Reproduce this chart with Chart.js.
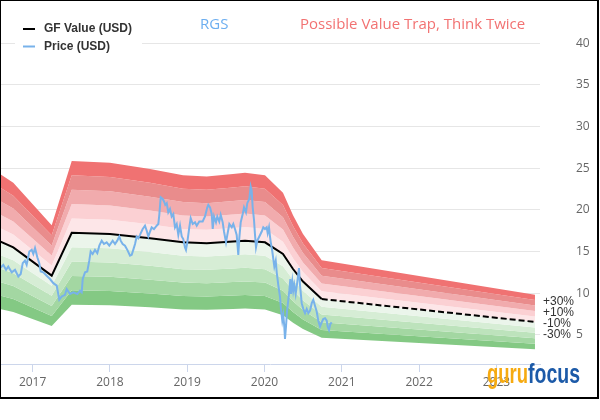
<!DOCTYPE html>
<html>
<head>
<meta charset="utf-8">
<script src="https://cdn.jsdelivr.net/npm/chart.js@4.4.0/dist/chart.umd.min.js"></script>
<style>
html, body { margin: 0; padding: 0; background: #fff; }
#wrap { width: 600px; height: 420px; }
</style>
</head>
<body>
<div id="wrap"><canvas id="grafico" width="600" height="420"></canvas></div>
<script>
// GF Value (historical), decimal years
const gfYears = [2016.578, 2016.750, 2017.247, 2017.506, 2018.001, 2018.519, 2018.946, 2019.252,
    2019.592, 2019.748, 2020.006, 2020.239, 2020.369, 2020.498, 2020.740];
const gfValues = [16.2, 15.5, 12.1, 17.25, 17.1, 16.6, 16.1, 16.0,
    16.2, 16.3, 16.1, 14.7, 12.9, 11.4, 9.3];

// GF Value projection (dashed)
const projYears = [2020.740, 2023.499];
const projValues = [9.3, 6.55];

// band offsets around GF Value, percent
const bandPcts = [50, 40, 30, 20, 10, 0, -10, -20, -30, -40, -50];
const bandColors = ['#f07272', '#e98c8c', '#f1abad', '#fbd0d3', '#fde6e8',
    '#ebf5eb', '#d6edd5', '#bde3bc', '#a3d7a2', '#84c984'];
const bandLabels = ['+30%', '+10%', '-10%', '-30%'];
const bandLabelPcts = [30, 10, -10, -30];

// Price (USD)
const priceYears = [
    2016.578, 2016.621, 2016.656, 2016.685, 2016.729, 2016.772, 2016.815, 2016.846, 2016.872, 2016.901,
    2016.923, 2016.957, 2016.988, 2017.009, 2017.031, 2017.061, 2017.086, 2017.105, 2017.138, 2017.182,
    2017.225, 2017.268, 2017.312, 2017.345, 2017.376, 2017.419, 2017.441, 2017.484, 2017.526, 2017.578,
    2017.613, 2017.635, 2017.648, 2017.678, 2017.707, 2017.733, 2017.751, 2017.777, 2017.807, 2017.837,
    2017.863, 2017.894, 2017.923, 2017.958, 2017.992, 2018.036, 2018.066, 2018.095, 2018.121, 2018.139,
    2018.165, 2018.195, 2018.225, 2018.260, 2018.282, 2018.302, 2018.325, 2018.346, 2018.367, 2018.389,
    2018.424, 2018.454, 2018.476, 2018.497, 2018.519, 2018.540, 2018.570, 2018.605, 2018.626, 2018.639,
    2018.657, 2018.683, 2018.700, 2018.716, 2018.735, 2018.755, 2018.777, 2018.799, 2018.820, 2018.842,
    2018.864, 2018.885, 2018.907, 2018.929, 2018.949, 2018.971, 2018.984, 2019.001, 2019.027, 2019.045,
    2019.071, 2019.101, 2019.123, 2019.156, 2019.200, 2019.230, 2019.260, 2019.273, 2019.295, 2019.317,
    2019.330, 2019.347, 2019.372, 2019.389, 2019.415, 2019.433, 2019.459, 2019.476, 2019.502, 2019.519,
    2019.545, 2019.576, 2019.596, 2019.618, 2019.640, 2019.661, 2019.674, 2019.692, 2019.718, 2019.735,
    2019.760, 2019.777, 2019.803, 2019.821, 2019.834, 2019.847, 2019.864, 2019.877, 2019.890, 2019.907,
    2019.933, 2019.964, 2019.984, 2020.006, 2020.028, 2020.041, 2020.058, 2020.071, 2020.084, 2020.101,
    2020.114, 2020.127, 2020.145, 2020.158, 2020.178, 2020.200, 2020.213, 2020.230, 2020.243, 2020.256,
    2020.265, 2020.278, 2020.291, 2020.308, 2020.321, 2020.334, 2020.343, 2020.360, 2020.372, 2020.385,
    2020.403, 2020.416, 2020.429, 2020.446, 2020.459, 2020.481, 2020.502, 2020.524, 2020.546, 2020.567,
    2020.589, 2020.611, 2020.631, 2020.653, 2020.675, 2020.696, 2020.718, 2020.740, 2020.760, 2020.783,
    2020.805, 2020.817, 2020.834, 2020.851, 2020.869];
const priceValues = [
    13.0, 13.4, 12.8, 13.2, 12.5, 12.8, 12.0, 12.3, 13.6, 13.9,
    13.4, 15.0, 15.2, 14.7, 15.4, 14.3, 13.6, 12.6, 12.5, 12.1,
    11.7, 11.2, 10.9, 9.2, 9.6, 9.8, 10.5, 9.9, 10.1, 9.9,
    10.3, 10.1, 11.7, 12.5, 12.6, 13.9, 15.0, 14.7, 15.2, 14.8,
    15.7, 16.3, 15.9, 16.1, 15.7, 16.3, 15.9, 16.3, 16.8, 16.3,
    15.9, 15.7, 15.2, 14.5, 14.6, 15.2, 15.9, 16.8, 16.6, 17.0,
    17.7, 18.1, 17.5, 16.8, 17.4, 17.9, 17.7, 18.1, 18.3, 19.4,
    21.5, 21.3, 21.0, 20.6, 20.8, 19.7, 20.1, 19.2, 19.5, 17.9,
    18.3, 17.0, 18.1, 16.8, 16.5, 15.5, 15.2, 16.1, 17.9, 19.0,
    18.3, 18.5, 18.1, 18.6, 18.6, 19.2, 20.3, 20.6, 20.3, 19.5,
    17.7, 19.2, 18.5, 19.2, 18.6, 19.4, 18.5, 17.4, 16.1, 17.0,
    18.3, 17.9, 18.3, 17.7, 17.0, 14.6, 16.6, 18.5, 19.5, 20.3,
    19.7, 20.8, 21.3, 22.8, 22.3, 20.3, 18.8, 17.0, 15.5, 16.3,
    16.8, 17.4, 17.9, 17.7, 17.9, 17.2, 17.9, 16.8, 15.9, 15.0,
    14.1, 13.2, 13.9, 12.5, 11.0, 9.6, 8.1, 6.7, 7.4, 6.0,
    4.5, 6.0, 7.8, 9.2, 10.3, 11.7, 9.9, 11.4, 10.3, 11.0,
    9.9, 10.8, 11.7, 13.0, 11.0, 8.8, 8.1, 7.6, 8.1, 7.6,
    7.9, 8.8, 9.2, 8.5, 7.8, 6.7, 6.0, 6.5, 6.9, 7.0,
    6.7, 6.0, 5.6, 6.3, 6.5];

// axes
const yearTicks = [2017, 2018, 2019, 2020, 2021, 2022, 2023];
const yTicks = [5, 10, 15, 20, 25, 30, 35, 40];
const xMin = 2016.578, xMax = 2023.564;
const yMin = 1.5, yMax = 40;

const toPts = (xs, ys) => xs.map((x, i) => ({ x, y: ys[i] }));

// GF value full path (historic + projected end) used for the bands
const bandYears = gfYears.concat(projYears.slice(1));
const bandBase = gfValues.concat(projValues.slice(1));

const datasets = [
    { label: 'Price (USD)', data: toPts(priceYears, priceValues), borderColor: '#78b2ea', borderWidth: 2, fill: false },
    { label: 'GF Value (USD)', data: toPts(gfYears, gfValues), borderColor: '#000', borderWidth: 2, fill: false },
    { label: 'proj', data: toPts(projYears, projValues), borderColor: '#000', borderWidth: 2, borderDash: [6, 3], fill: false }
];
bandPcts.forEach((p, i) => {
    datasets.push({
        label: 'band' + p,
        data: toPts(bandYears, bandBase.map(v => v * (1 + p / 100))),
        borderWidth: 0,
        borderColor: 'rgba(0,0,0,0)',
        backgroundColor: i > 0 ? bandColors[i - 1] : 'rgba(0,0,0,0)',
        fill: i > 0 ? '-1' : false
    });
});

const extras = {
    id: 'extras',
    afterDraw(chart) {
        const ctx = chart.ctx;
        const ys = chart.scales.y;
        ctx.save();
        // legend
        ctx.fillStyle = '#fff';
        ctx.fillRect(15, 12, 127, 46);
        ctx.lineWidth = 2;
        ctx.strokeStyle = '#000';
        ctx.beginPath(); ctx.moveTo(23, 29); ctx.lineTo(35, 29); ctx.stroke();
        ctx.strokeStyle = '#78b2ea';
        ctx.beginPath(); ctx.moveTo(23, 46.5); ctx.lineTo(35, 46.5); ctx.stroke();
        ctx.fillStyle = '#333';
        ctx.font = 'bold 12px "Liberation Sans", Arial, sans-serif';
        ctx.textBaseline = 'middle';
        ctx.textAlign = 'left';
        ctx.fillText('GF Value (USD)', 44, 29);
        ctx.fillText('Price (USD)', 44, 47);
        // titles
        ctx.font = '15px "Open Sans", sans-serif';
        ctx.fillStyle = '#6caef0';
        ctx.fillText('RGS', 200, 25);
        ctx.fillStyle = '#f27272';
        ctx.fillText('Possible Value Trap, Think Twice', 300, 25);
        // band labels
        ctx.font = '12px "Liberation Sans", Arial, sans-serif';
        ctx.fillStyle = '#333';
        const lastGf = projValues[projValues.length - 1];
        bandLabelPcts.forEach((p, i) => {
            ctx.fillText(bandLabels[i], 543, ys.getPixelForValue(lastGf * (1 + p / 100)) - 4);
        });
        // logo
        ctx.textBaseline = 'alphabetic';
        ctx.font = 'bold 27px "Liberation Sans Narrow", "Liberation Sans", Arial, sans-serif';
        const w1 = ctx.measureText('guru').width;
        const w2 = ctx.measureText('focus').width;
        ctx.save();
        ctx.translate(487, 383);
        ctx.scale(41 / w1, 1);
        ctx.fillStyle = '#f6aa10';
        ctx.fillText('guru', 0, 0);
        ctx.restore();
        ctx.save();
        ctx.translate(528, 383);
        ctx.scale(52 / w2, 1);
        ctx.fillStyle = '#1c5aa8';
        ctx.fillText('focus', 0, 0);
        ctx.restore();
        // frame
        ctx.fillStyle = '#000';
        ctx.fillRect(0, 0, 599, 1);
        ctx.fillRect(0, 0, 1, 399);
        ctx.fillRect(597, 0, 2, 399);
        ctx.fillRect(0, 397, 599, 2);
        ctx.restore();
    }
};

const ctx = document.getElementById('grafico').getContext('2d');
window.graficoGF = new Chart(ctx, {
    type: 'line',
    data: { datasets },
    options: {
        responsive: false,
        animation: false,
        layout: { padding: { top: 10, left: 0, right: 0, bottom: 0 } },
        plugins: { legend: { display: false }, tooltip: { enabled: false } },
        elements: { point: { radius: 0 }, line: { tension: 0 } },
        scales: {
            x: {
                type: 'linear', min: xMin, max: xMax,
                afterBuildTicks: s => { s.ticks = yearTicks.map(v => ({ value: v })); },
                afterFit: s => { s.height = 56; },
                grid: { drawOnChartArea: false, color: '#ccd6eb', tickLength: 8 },
                border: { color: '#ccd6eb' },
                ticks: { color: '#666', font: { family: '"Open Sans", sans-serif', size: 12 }, padding: 3, callback: v => String(v) }
            },
            y: {
                position: 'right', min: yMin, max: yMax,
                afterBuildTicks: s => { s.ticks = yTicks.map(v => ({ value: v })); },
                afterFit: s => { s.width = 60; },
                grid: { color: '#e6e6e6', drawTicks: false },
                border: { display: false },
                ticks: { color: '#666', font: { family: '"Open Sans", sans-serif', size: 12 }, padding: 36 }
            }
        }
    },
    plugins: [extras]
});
</script>
</body>
</html>
